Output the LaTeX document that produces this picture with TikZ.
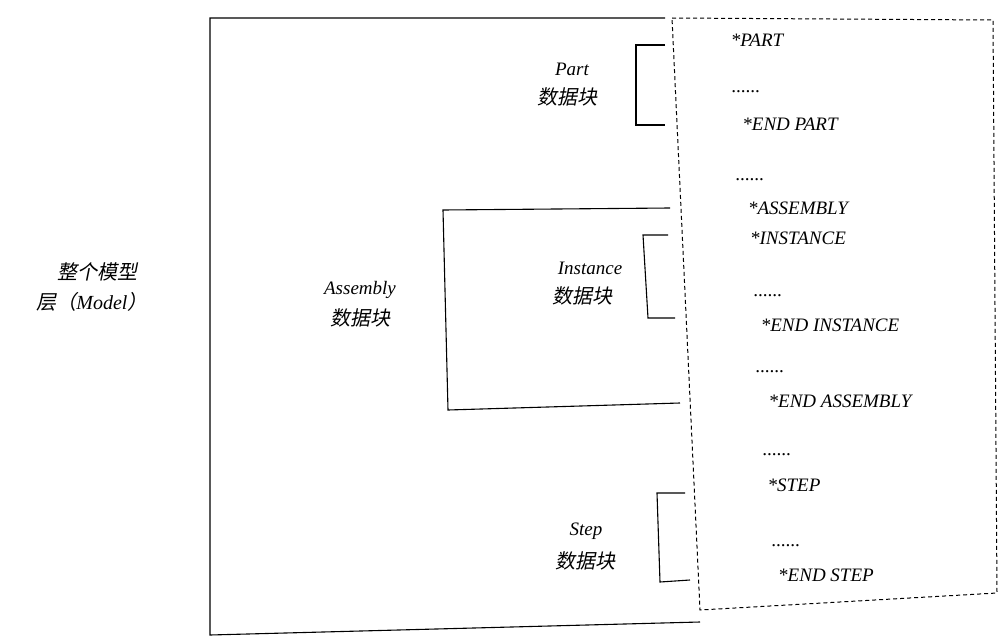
\documentclass[tikz,border=0pt]{standalone}
\usepackage{fontspec}
\setmainfont{Liberation Serif}
\newfontfamily\cjk[FakeSlant=0.2]{Noto Sans CJK SC}
\begin{document}
\begin{tikzpicture}[x=1pt,y=-1pt,
  lbl/.style={font=\fontsize{19}{21}\selectfont\itshape, inner sep=0pt},
  cn/.style={font=\fontsize{20}{22}\selectfont\cjk, inner sep=0pt},
  ln/.style={line width=1.1pt},
  dsh/.style={line width=1pt, dash pattern=on 4pt off 3pt}]
\useasboundingbox (0,0) rectangle (1007,642);
% big bracket
\draw[ln] (665,18) -- (210,18) -- (210,635) -- (700,622);
% dashed code box
\draw[dsh] (672,18) -- (993,20) -- (997,593) -- (700,610) -- cycle;
% part bracket
\draw[ln] (665,45) -- (636,45) -- (636,125) -- (665,125);
% assembly bracket
\draw[ln] (670,208) -- (443,210) -- (448,410) -- (680,403);
% instance bracket
\draw[ln] (668,235) -- (643,235) -- (648,318) -- (675,318);
% step bracket
\draw[ln] (685,493) -- (657,493) -- (660,582) -- (690,580);
% code text
\node[lbl] (t1) at (757,40) {*PART};
\node[lbl] (t2) at (746,92) {......};
\node[lbl] (t3) at (790,124) {*END PART};
\node[lbl] (t4) at (750,180) {......};
\node[lbl] (t5) at (798,208) {*ASSEMBLY};
\node[lbl] (t6) at (798,238) {*INSTANCE};
\node[lbl] (t7) at (768,296) {......};
\node[lbl] (t8) at (830,325) {*END INSTANCE};
\node[lbl] (t9) at (770,372) {......};
\node[lbl] (t10) at (840,401) {*END ASSEMBLY};
\node[lbl] (t11) at (777,455) {......};
\node[lbl] (t12) at (794,485) {*STEP};
\node[lbl] (t13) at (786,546) {......};
\node[lbl] (t14) at (826,575) {*END STEP};
% block labels
\node[lbl] (p1) at (572,69) {Part};
\node[cn] (p2) at (567,97) {数据块};
\node[lbl] (i1) at (590,268) {Instance};
\node[cn] (i2) at (582,296) {数据块};
\node[lbl] (a1) at (360,290) {Assembly};
\node[cn] (a2) at (360,318) {数据块};
\node[lbl] (s1) at (586,531) {Step};
\node[cn] (s2) at (585,561) {数据块};
\node[cn] (m1) at (97,272) {整个模型};
\node[cn] (m2) at (92,302) {层（{\itshape\rmfamily Model}）};
\end{tikzpicture}
\end{document}
